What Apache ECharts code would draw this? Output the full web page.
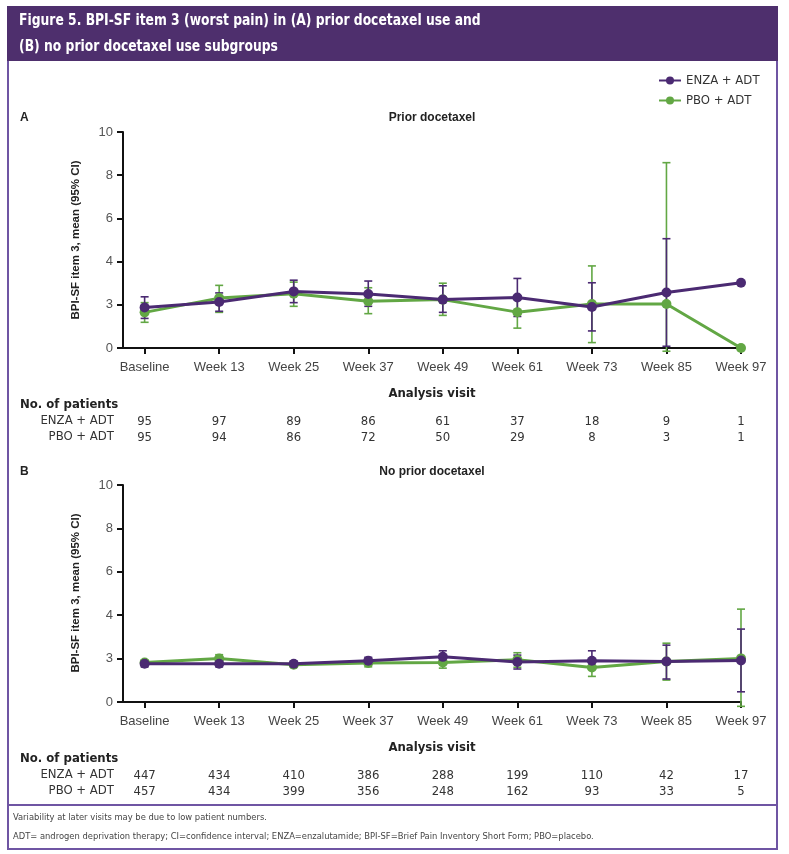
<!DOCTYPE html>
<html>
<head>
<meta charset="utf-8">
<script src="https://cdn.jsdelivr.net/npm/echarts@6/dist/echarts.min.js"></script>
<style>
html,body{margin:0;padding:0;background:#fff;}
#chart{width:789px;height:854px;}
</style>
</head>
<body>
<div id="chart"></div>
<script>
// ---------- data ----------
const categories = ['Baseline','Week 13','Week 25','Week 37','Week 49','Week 61','Week 73','Week 85','Week 97'];
const yTickValues = [0, 2, 4, 6, 8, 10];
const yTickLabels = ['0', '3', '4', '6', '8', '10'];

// Panel A: prior docetaxel
const aEnzaMean = [1.88, 2.13, 2.62, 2.50, 2.24, 2.34, 1.90, 2.57, 3.02];
const aEnzaLow  = [1.37, 1.70, 2.10, 1.93, 1.65, 1.46, 0.79, 0.08, null];
const aEnzaHigh = [2.37, 2.55, 3.14, 3.10, 2.88, 3.22, 3.02, 5.06, null];
const aPboMean  = [1.65, 2.31, 2.51, 2.16, 2.24, 1.66, 2.04, 2.04, 0.00];
const aPboLow   = [1.19, 1.65, 1.93, 1.59, 1.51, 0.92, 0.25, -0.15, null];
const aPboHigh  = [2.10, 2.90, 3.05, 2.79, 3.00, 2.40, 3.80, 8.58, null];
const aEnzaN = [95, 97, 89, 86, 61, 37, 18, 9, 1];
const aPboN  = [95, 94, 86, 72, 50, 29, 8, 3, 1];

// Panel B: no prior docetaxel
const bEnzaMean = [1.76, 1.76, 1.76, 1.90, 2.08, 1.84, 1.90, 1.87, 1.91];
const bEnzaLow  = [1.62, 1.62, 1.64, 1.74, 1.84, 1.52, 1.55, 1.06, 0.47];
const bEnzaHigh = [1.90, 1.90, 1.88, 2.06, 2.36, 2.16, 2.36, 2.62, 3.36];
const bPboMean  = [1.82, 2.00, 1.72, 1.80, 1.82, 1.95, 1.59, 1.87, 2.01];
const bPboLow   = [1.70, 1.84, 1.60, 1.62, 1.56, 1.60, 1.18, 1.01, -0.20];
const bPboHigh  = [1.94, 2.18, 1.84, 1.96, 2.06, 2.27, 1.95, 2.71, 4.28];
const bEnzaN = [447, 434, 410, 386, 288, 199, 110, 42, 17];
const bPboN  = [457, 434, 399, 356, 248, 162, 93, 33, 5];

// ---------- styling ----------
const PURPLE = '#4b2a72';
const GREEN = '#62a744';
const FRAME = '#6f55a3';
const BAR = '#4e2f6d';
const NARROW = "'Liberation Sans Narrow','DejaVu Sans Condensed',sans-serif";
const SANS = "'Liberation Sans',Arial,sans-serif";
const idx = categories.map((c, i) => i);

const chart = echarts.init(document.getElementById('chart'), null, {renderer: 'canvas'});

function xAxes(g) {
  return [
    {
      gridIndex: g, type: 'value', min: -0.29, max: 8,
      axisLine: {show: true, onZero: false, lineStyle: {color: '#111', width: 2}},
      axisTick: {show: true, inside: false, customValues: idx, length: 6, lineStyle: {color: '#111', width: 2}},
      axisLabel: {customValues: idx, formatter: v => categories[v], fontFamily: SANS, fontSize: 13, color: '#444', margin: 13},
      splitLine: {show: false}
    }
  ];
}
function riskAxis(g, arr, offset) {
  return {
    gridIndex: g, type: 'value', min: -0.29, max: 8, position: 'bottom', offset: offset,
    axisLine: {show: false, onZero: false}, axisTick: {show: false}, splitLine: {show: false},
    axisLabel: {customValues: idx, formatter: v => String(arr[v]), fontFamily: NARROW, fontSize: 13, color: '#333', margin: 0}
  };
}
function yAxis(g) {
  return {
    gridIndex: g, type: 'value', min: 0, max: 10, interval: 2,
    axisLine: {show: true, onZero: false, lineStyle: {color: '#111', width: 2}},
    axisTick: {show: true, inside: false, length: 6, lineStyle: {color: '#111', width: 2}},
    axisLabel: {formatter: v => yTickLabels[yTickValues.indexOf(v)], fontFamily: SANS, fontSize: 13, color: '#555', margin: 10},
    splitLine: {show: false}
  };
}
function errSeries(name, color, lo, hi, axisIdx) {
  const data = [];
  lo.forEach((v, i) => { if (v !== null && hi[i] !== null) data.push([i, v, hi[i]]); });
  return {
    type: 'custom', name: name, xAxisIndex: axisIdx, yAxisIndex: axisIdx / 3, z: 3, clip: false,
    data: data,
    renderItem: function (params, api) {
      const x = api.value(0);
      const p1 = api.coord([x, api.value(1)]);
      const p2 = api.coord([x, api.value(2)]);
      const w = 4;
      const st = {stroke: color, lineWidth: 1.6};
      return {type: 'group', children: [
        {type: 'line', shape: {x1: p1[0], y1: p1[1], x2: p2[0], y2: p2[1]}, style: st},
        {type: 'line', shape: {x1: p1[0] - w, y1: p1[1], x2: p1[0] + w, y2: p1[1]}, style: st},
        {type: 'line', shape: {x1: p2[0] - w, y1: p2[1], x2: p2[0] + w, y2: p2[1]}, style: st}
      ]};
    }
  };
}
function lineSeries(name, color, mean, axisIdx, z) {
  return {
    type: 'line', name: name, xAxisIndex: axisIdx, yAxisIndex: axisIdx / 3, z: z,
    data: mean.map((v, i) => [i, v]),
    symbol: 'circle', symbolSize: 10, showSymbol: true,
    lineStyle: {color: color, width: 3}, itemStyle: {color: color},
    emphasis: {disabled: true}
  };
}

function txt(text, x, y, opt) {
  return Object.assign({type: 'text', x: x, y: y, silent: true,
    style: Object.assign({text: text, fill: '#222', font: 'bold 13px ' + SANS, textAlign: 'left', textVerticalAlign: 'middle'}, opt || {})});
}

const graphics = [
  {type: 'rect', shape: {x: 8, y: 7, width: 769, height: 842}, style: {fill: 'none', stroke: FRAME, lineWidth: 2}, silent: true},
  {type: 'rect', shape: {x: 7, y: 6, width: 771, height: 55}, style: {fill: BAR}, silent: true},
  {type: 'line', shape: {x1: 8, y1: 805, x2: 777, y2: 805}, style: {stroke: FRAME, lineWidth: 2}, silent: true},
  Object.assign(txt('Figure 5. BPI-SF item 3 (worst pain) in (A) prior docetaxel use and', 0, 0, {fill: '#fff', font: 'bold 15px ' + NARROW}), {x: 19, y: 21, scaleX: 0.915}),
  Object.assign(txt('(B) no prior docetaxel use subgroups', 0, 0, {fill: '#fff', font: 'bold 15px ' + NARROW}), {x: 19, y: 47, scaleX: 0.915}),
  txt('A', 20, 118, {font: 'bold 12px ' + SANS}),
  txt('Prior docetaxel', 432, 118, {font: 'bold 12px ' + SANS, textAlign: 'center'}),
  txt('B', 20, 472, {font: 'bold 12px ' + SANS}),
  txt('No prior docetaxel', 432, 472, {font: 'bold 12px ' + SANS, textAlign: 'center'}),
  Object.assign(txt('BPI-SF item 3, mean (95% CI)', 0, 0, {font: 'bold 11.5px ' + SANS, textAlign: 'center'}), {x: 76, y: 240, rotation: Math.PI / 2}),
  Object.assign(txt('BPI-SF item 3, mean (95% CI)', 0, 0, {font: 'bold 11.5px ' + SANS, textAlign: 'center'}), {x: 76, y: 593, rotation: Math.PI / 2}),
  txt('Analysis visit', 432, 394, {font: 'bold 13px ' + NARROW, textAlign: 'center'}),
  txt('Analysis visit', 432, 748, {font: 'bold 13px ' + NARROW, textAlign: 'center'}),
  txt('No. of patients', 20, 405, {font: 'bold 13px ' + NARROW}),
  txt('No. of patients', 20, 759, {font: 'bold 13px ' + NARROW}),
  txt('ENZA + ADT', 114, 421, {font: '13px ' + NARROW, fill: '#333', textAlign: 'right'}),
  txt('PBO + ADT', 114, 437, {font: '13px ' + NARROW, fill: '#333', textAlign: 'right'}),
  txt('ENZA + ADT', 114, 775, {font: '13px ' + NARROW, fill: '#333', textAlign: 'right'}),
  txt('PBO + ADT', 114, 791, {font: '13px ' + NARROW, fill: '#333', textAlign: 'right'}),
  txt('Variability at later visits may be due to low patient numbers.', 13, 818, {font: '9.3px ' + NARROW, fill: '#444'}),
  txt('ADT= androgen deprivation therapy; CI=confidence interval; ENZA=enzalutamide; BPI-SF=Brief Pain Inventory Short Form; PBO=placebo.', 13, 837, {font: '9.3px ' + NARROW, fill: '#444'})
];

const option = {
  backgroundColor: '#fff',
  animation: false,
  legend: {
    data: ['ENZA + ADT', 'PBO + ADT'], orient: 'vertical', left: 653, top: 69,
    itemWidth: 22, itemHeight: 10, itemGap: 7,
    textStyle: {fontFamily: NARROW, fontSize: 13, color: '#333'}
  },
  grid: [
    {left: 123, width: 618, top: 132, height: 216, containLabel: false, outerBoundsMode: 'none'},
    {left: 123, width: 618, top: 485, height: 217, containLabel: false, outerBoundsMode: 'none'}
  ],
  xAxis: [
    ...xAxes(0), riskAxis(0, aEnzaN, 67), riskAxis(0, aPboN, 83),
    ...xAxes(1), riskAxis(1, bEnzaN, 67), riskAxis(1, bPboN, 83)
  ],
  yAxis: [yAxis(0), yAxis(1)],
  series: [
    errSeries('errA_pbo', GREEN, aPboLow, aPboHigh, 0),
    lineSeries('PBO + ADT', GREEN, aPboMean, 0, 4),
    errSeries('errA_enza', PURPLE, aEnzaLow, aEnzaHigh, 0),
    lineSeries('ENZA + ADT', PURPLE, aEnzaMean, 0, 5),
    errSeries('errB_pbo', GREEN, bPboLow, bPboHigh, 3),
    lineSeries('PBO + ADT', GREEN, bPboMean, 3, 4),
    errSeries('errB_enza', PURPLE, bEnzaLow, bEnzaHigh, 3),
    lineSeries('ENZA + ADT', PURPLE, bEnzaMean, 3, 5)
  ],
  graphic: graphics
};
chart.setOption(option);
</script>
</body>
</html>
